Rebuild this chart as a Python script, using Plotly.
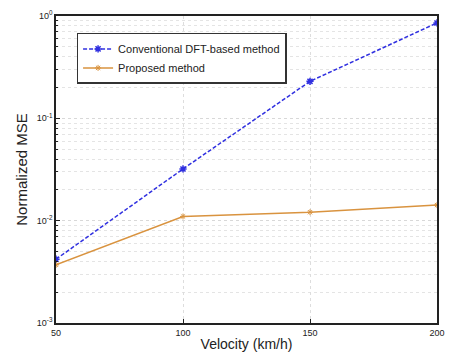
import plotly.graph_objects as go

velocity = [50, 100, 150, 200]
mse_dft = [0.0042, 0.032, 0.23, 0.855]
mse_proposed = [0.0037, 0.011, 0.0121, 0.0142]
x_ticks = [50, 100, 150, 200]
y_tick_vals = [1e-3, 1e-2, 1e-1, 1e0]
y_tick_text = ["10<sup>-3</sup>", "10<sup>-2</sup>", "10<sup>-1</sup>", "10<sup>0</sup>"]
y_minor = [k * 10.0 ** e for e in (-3, -2, -1) for k in range(2, 10)]

fig = go.Figure()
fig.add_trace(go.Scatter(
    x=velocity, y=mse_dft, name="Conventional DFT-based method",
    mode="lines+markers",
    line=dict(color="#3030e0", width=1.5, dash="4px,2px"),
    marker=dict(symbol="asterisk-open", size=6, color="#3030e0", line=dict(width=1.5, color="#3030e0")),
))
fig.add_trace(go.Scatter(
    x=velocity, y=mse_proposed, name="Proposed method",
    mode="lines+markers",
    line=dict(color="#d9933f", width=1.5),
    marker=dict(symbol="asterisk-open", size=5, color="#d9933f", line=dict(width=1, color="#d9933f")),
))

fig.update_layout(
    width=451, height=361,
    margin=dict(l=56, r=6, t=16, b=38),
    paper_bgcolor="white", plot_bgcolor="white",
    font=dict(family="Liberation Sans, Arial", size=9, color="#222"),
    showlegend=True,
    legend=dict(
        x=0.054, y=0.945, xanchor="left", yanchor="top",
        bgcolor="white", bordercolor="#333", borderwidth=1.5,
        font=dict(size=11), itemwidth=30, tracegroupgap=0,
    ),
)
fig.update_xaxes(
    range=[50, 200], tickvals=x_ticks, ticktext=[str(v) for v in x_ticks],
    showline=True, mirror=True, linecolor="#222", linewidth=1.5,
    ticks="inside", ticklen=4, tickcolor="#222",
    showgrid=True, gridcolor="#dddddd", griddash="dot", gridwidth=1,
    zeroline=False,
    title=dict(text="Velocity (km/h)", font=dict(size=14), standoff=3),
)
fig.update_yaxes(
    type="log", range=[-3, 0],
    tickvals=y_tick_vals, ticktext=y_tick_text,
    showline=True, mirror=True, linecolor="#222", linewidth=1.5,
    ticks="inside", ticklen=4, tickcolor="#222",
    showgrid=True, gridcolor="#d8d8d8", griddash="dot", gridwidth=1,
    minor=dict(tickvals=y_minor, showgrid=True, gridcolor="#e4e4e4", griddash="dot",
               ticks="inside", ticklen=2, tickcolor="#222"),
    zeroline=False,
    title=dict(text="Normalized MSE", font=dict(size=15), standoff=6),
)

fig.write_html("out.html")
